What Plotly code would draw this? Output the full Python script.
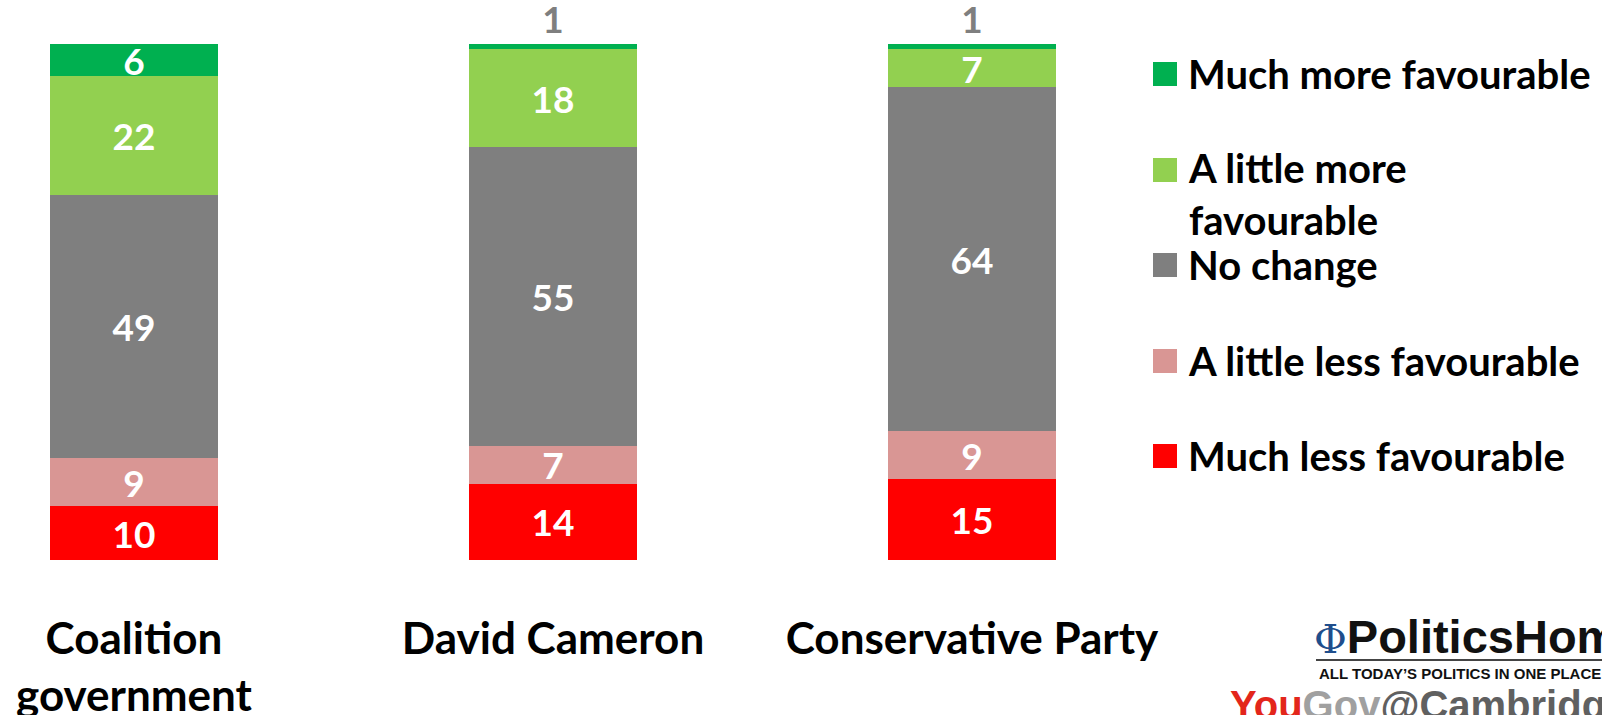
import plotly.graph_objects as go

categories = ["Coalition<br>government", "David Cameron", "Conservative Party"]
series_names = ["Much less favourable", "A little less favourable", "No change",
                "A little more favourable", "Much more favourable"]
much_less = [10, 14, 15]
little_less = [9, 7, 9]
no_change = [49, 55, 64]
little_more = [22, 18, 7]
much_more = [6, 1, 1]

colors = ["#FF0000", "#D99694", "#7F7F7F", "#92D050", "#00B050"]
values = [much_less, little_less, no_change, little_more, much_more]

# each bar is drawn as a 100% stack (shares of the bar's own total)
totals = [sum(col) for col in zip(*values)]
shares = [[v / t * 100 for v, t in zip(vals, totals)] for vals in values]

# plot geometry (pixels)
WID, HEI = 1602, 715
L, T = 30, 44
R_PX, B_PX = 1080, 560
PW, PH = R_PX - L, B_PX - T


def px(x):
    return (x - L) / PW


def py(y):
    return 1 - (y - T) / PH


FONT = "Lato, 'Open Sans', sans-serif"

fig = go.Figure()
for name, vals, shr, col in zip(series_names, values, shares, colors):
    is_top = name == "Much more favourable"
    if is_top:
        tpos = ["inside" if v >= 3 else "outside" for v in vals]
    else:
        tpos = "inside"
    fig.add_trace(go.Bar(
        x=categories, y=shr, name=name,
        marker=dict(color=col, line=dict(width=0)),
        text=[str(v) for v in vals], texttemplate="%{text}",
        textposition=tpos, textangle=0, constraintext="none",
        insidetextanchor="middle",
        insidetextfont=dict(family=FONT, size=37, color="white", weight="bold"),
        outsidetextfont=dict(family=FONT, size=37, color="#7F7F7F", weight="bold"),
        cliponaxis=False, showlegend=False, hoverinfo="skip",
    ))

# legend drawn manually (order & irregular spacing as in reference)
legend_rows = [
    ("Much more favourable", "#00B050", 74, 74),
    ("A little more<br>favourable", "#92D050", 170, 194),
    ("No change", "#7F7F7F", 265, 265),
    ("A little less favourable", "#D99694", 361, 361),
    ("Much less favourable", "#FF0000", 456, 456),
]
shapes = []
annotations = []
for label, col, ysq, ytxt in legend_rows:
    shapes.append(dict(type="rect", xref="paper", yref="paper",
                       x0=px(1153), x1=px(1177), y0=py(ysq + 12), y1=py(ysq - 12),
                       fillcolor=col, line=dict(width=0)))
    annotations.append(dict(text=label, xref="paper", yref="paper",
                            x=px(1186), y=py(ytxt), xanchor="left", yanchor="middle",
                            align="left", showarrow=False,
                            font=dict(family=FONT, size=40, color="black", weight="bold")))

# logos (text recreation)
annotations.append(dict(
    text="<span style='font-family:DejaVu Serif;color:#1F4E8C;font-weight:normal;font-size:40px'>Φ</span>"
         "PoliticsHome",
    xref="paper", yref="paper", x=px(1312), y=py(636),
    xanchor="left", yanchor="middle", showarrow=False,
    font=dict(family="Liberation Sans", size=47, color="#111111", weight="bold")))
shapes.append(dict(type="line", xref="paper", yref="paper", x0=px(1316), x1=px(1620),
                   y0=py(660), y1=py(660), line=dict(color="#444444", width=2)))
annotations.append(dict(text="ALL TODAY’S POLITICS IN ONE PLACE", xref="paper", yref="paper",
                        x=px(1317), y=py(673), xanchor="left", yanchor="middle", showarrow=False,
                        font=dict(family="Liberation Sans", size=15, color="#111111", weight="bold")))
annotations.append(dict(
    text="<span style='color:#E3261B'>You</span><span style='color:#A0A0A0'>Gov</span>"
         "<span style='color:#606060'>@Cambridge</span>",
    xref="paper", yref="paper", x=px(1228), y=py(705), xanchor="left", yanchor="middle",
    showarrow=False, font=dict(family="'Liberation Sans Narrow', 'Liberation Sans'", size=40,
                               weight="bold")))

fig.update_layout(
    width=WID, height=HEI,
    barmode="stack", bargap=0.6,
    plot_bgcolor="white", paper_bgcolor="white",
    margin=dict(l=L, r=WID - R_PX, t=T, b=HEI - B_PX, autoexpand=False),
    xaxis=dict(type="category", range=[(L - 134) / 419, (R_PX - 134) / 419],
               showgrid=False, showline=False, zeroline=False,
               ticks="outside", ticklen=40, tickcolor="rgba(0,0,0,0)",
               tickfont=dict(family=FONT, size=44, color="black", weight="bold")),
    yaxis=dict(range=[0, 100], visible=False, showgrid=False, zeroline=False),
    shapes=shapes, annotations=annotations,
)

fig.write_html("out.html", config={"displayModeBar": False},
               post_script="document.body.style.margin='0';")
